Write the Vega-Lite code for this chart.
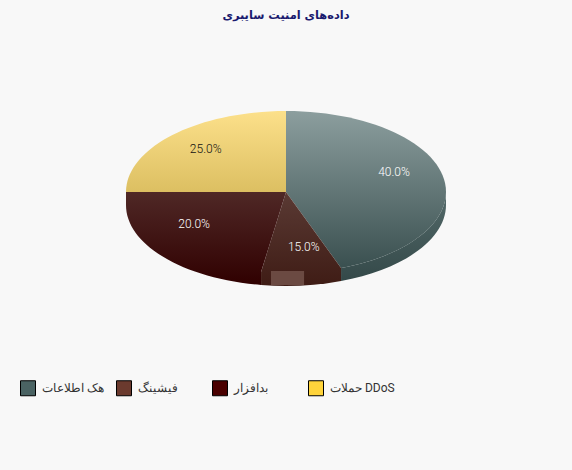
{
"$schema":"https://vega.github.io/schema/vega-lite/v6.json",
"width":572,"height":440,
"autosize":{"type":"none"},
"padding":{"left":0,"right":0,"top":30,"bottom":0},
"background":"#f8f8f8",
"title":{"text":"داده‌های امنیت سایبری","anchor":"middle","font":"DejaVu Sans","fontSize":11.4,"fontWeight":"bold","color":"#1a1a6e","offset":9},
"config":{"view":{"stroke":null}},
"data":{"values":[
{"slice":"هک اطلاعات","share":0.40},
{"slice":"فیشینگ","share":0.15},
{"slice":"بدافزار","share":0.20},
{"slice":"حملات DDoS","share":0.25}
]},
"transform":[
{"stack":"share","groupby":[],"as":["s0","s1"]},
{"calculate":"(datum.s0+datum.s1)*PI","as":"mid"},
{"calculate":"0.71*sin(datum.mid)","as":"lx"},
{"calculate":"0.71*cos(datum.mid)","as":"ly"}
],
"layer":[
{"mark":{"type":"point","filled":true,"opacity":0,"shape":"square"},
"encoding":{
"x":{"datum":0,"type":"quantitative","axis":null,"scale":{"domain":[-1.7875,1.7875],"nice":false,"zero":false}},
"y":{"datum":0,"type":"quantitative","axis":null,"scale":{"domain":[-3.432,2],"nice":false,"zero":false}},
"fill":{"field":"slice","type":"nominal","sort":null,"scale":{"domain":["هک اطلاعات","فیشینگ","بدافزار","حملات DDoS"],"range":["#4a6363","#6b3a2e","#4a0000","#ffd43b"]},
"legend":{"title":null,"orient":"none","legendX":20,"legendY":350,"direction":"horizontal","columns":4,"gridAlign":"all","columnPadding":7,"symbolType":"square","symbolSize":225,"symbolStrokeColor":"#000","symbolStrokeWidth":1,"symbolOpacity":1,"labelFont":"Roboto","labelFontSize":12,"labelColor":"#333","labelOffset":6,"labelLimit":200,"padding":0}}}},
{
"encoding":{
"x":{"datum":0,"type":"quantitative","axis":null},
"y":{"datum":0,"type":"quantitative","axis":null},
"size":{"value":102400}
},
"layer":[
{"transform":[{"filter":"datum.share==0.40"}],
"mark":{"type":"point","filled":true,"opacity":1,"strokeWidth":0,"shape":"M1,0 L1,.081 A1,.506 0 0 1 .344,.556 L.344,.475 A1,.506 0 0 0 1,0 Z","fill":{"gradient":"linear","x1":0,"y1":0,"x2":0,"y2":1,"stops":[{"offset":0,"color":"#546a6a"},{"offset":1,"color":"#344949"}]}}},
{"transform":[{"filter":"datum.share==0.40"}],
"mark":{"type":"point","filled":true,"opacity":1,"strokeWidth":0,"shape":"M0,0 L0,-.506 A1,.506 0 0 1 1,0 A1,.506 0 0 1 .344,.475 Z","fill":{"gradient":"linear","x1":0,"y1":0,"x2":0,"y2":1,"stops":[{"offset":0,"color":"#8c9e9e"},{"offset":1,"color":"#3a5050"}]}}},
{"transform":[{"filter":"datum.share==0.15"}],
"mark":{"type":"point","filled":true,"opacity":1,"strokeWidth":0,"shape":"M0,0 L.344,.475 L.344,.556 A1,.506 0 0 1 -.156,.581 L-.156,.5 Z","fill":{"gradient":"linear","x1":0,"y1":0,"x2":0,"y2":1,"stops":[{"offset":0,"color":"#5a3a34"},{"offset":1,"color":"#3f1c15"}]}}},
{"transform":[{"filter":"datum.share==0.15"}],
"mark":{"type":"point","filled":true,"opacity":1,"strokeWidth":0,"fill":"#6b4a42","shape":"M-.094,.494 L.113,.494 L.113,.581 L-.094,.581 Z"}},
{"transform":[{"filter":"datum.share==0.20"}],
"mark":{"type":"point","filled":true,"opacity":1,"strokeWidth":0,"shape":"M0,0 L-.156,.5 L-.156,.581 A1,.506 0 0 1 -1,.081 L-1,0 Z","fill":{"gradient":"linear","x1":0,"y1":0,"x2":0,"y2":1,"stops":[{"offset":0,"color":"#4f2826"},{"offset":1,"color":"#300000"}]}}},
{"transform":[{"filter":"datum.share==0.25"}],
"mark":{"type":"point","filled":true,"opacity":1,"strokeWidth":0,"shape":"M0,0 L-1,0 A1,.506 0 0 1 0,-.506 Z","fill":{"gradient":"linear","x1":0,"y1":0,"x2":0,"y2":1,"stops":[{"offset":0,"color":"#fce08a"},{"offset":1,"color":"#dcbf62"}]}}}
]},
{"mark":{"type":"text","font":"Roboto","fontSize":12,"dy":-2,"fontWeight":300},
"encoding":{
"x":{"field":"lx","type":"quantitative","axis":null},
"y":{"field":"ly","type":"quantitative","axis":null},
"text":{"field":"share","type":"quantitative","format":".1%"},
"fill":{"condition":{"test":"datum.share==0.25","value":"#111"},"value":"#ffffff"}}}
]
}
